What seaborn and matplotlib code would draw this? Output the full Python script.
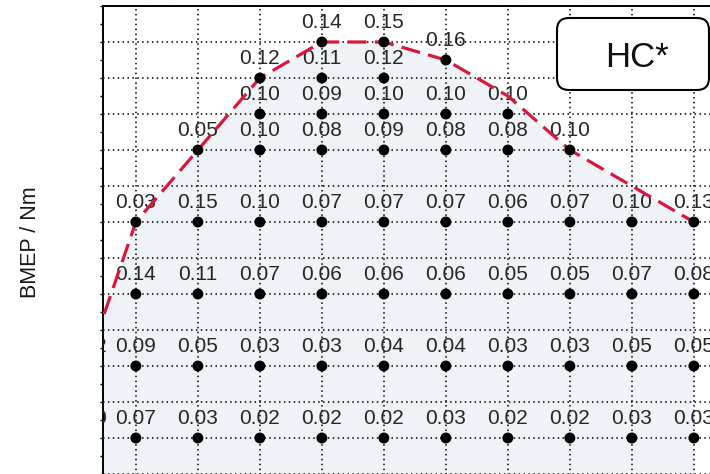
import matplotlib
matplotlib.use("Agg")
import matplotlib.pyplot as plt
import pandas as pd
import seaborn as sns
from matplotlib.patches import FancyBboxPatch
from matplotlib.transforms import IdentityTransform, ScaledTranslation
from matplotlib.ticker import MultipleLocator

# Measurement grid: engine speed columns (rpm), BMEP operating points and HC* values
col_speed = [600, 1000, 1500, 2000, 2500, 3000, 3500, 4000, 4500, 5000, 5500]
col_bmep = [
    [40, 20],
    [80, 60, 40, 20],
    [100, 80, 60, 40, 20],
    [120, 110, 100, 80, 60, 40, 20],
    [130, 120, 110, 100, 80, 60, 40, 20],
    [130, 120, 110, 100, 80, 60, 40, 20],
    [125, 110, 100, 80, 60, 40, 20],
    [110, 100, 80, 60, 40, 20],
    [100, 80, 60, 40, 20],
    [80, 60, 40, 20],
    [80, 60, 40, 20],
]
col_hc = [
    [0.12, 0.10],
    [0.03, 0.14, 0.09, 0.07],
    [0.05, 0.15, 0.11, 0.05, 0.03],
    [0.12, 0.10, 0.10, 0.10, 0.07, 0.03, 0.02],
    [0.14, 0.11, 0.09, 0.08, 0.07, 0.06, 0.03, 0.02],
    [0.15, 0.12, 0.10, 0.09, 0.07, 0.06, 0.04, 0.02],
    [0.16, 0.10, 0.08, 0.07, 0.06, 0.04, 0.03],
    [0.10, 0.08, 0.06, 0.05, 0.03, 0.02],
    [0.10, 0.07, 0.05, 0.03, 0.02],
    [0.10, 0.07, 0.05, 0.03],
    [0.13, 0.08, 0.05, 0.03],
]

# Full-load line
fl_speed = [600, 1000, 1500, 2000, 2500, 3000, 3500, 4000, 4500, 5000, 5500]
fl_bmep = [40, 80, 100, 120, 130, 130, 125, 115, 100, 90, 80]

points = pd.DataFrame(
    [(s, b, h) for s, bs, hs in zip(col_speed, col_bmep, col_hc) for b, h in zip(bs, hs)],
    columns=["speed", "bmep", "hc"],
)
full_load = pd.DataFrame({"speed": fl_speed, "bmep": fl_bmep})

sns.set_theme(style="ticks")
plt.rcParams["font.family"] = ["Liberation Sans", "DejaVu Sans"]

W, H, DPI = 710, 474, 100
fig = plt.figure(figsize=(W / DPI, H / DPI), dpi=DPI)

# axes window: x 735..5800 rpm, y 0..140 Nm (extends past the lower/right edge)
x0, x1, y0, y1 = 735, 5800, 0, 140
px_per_rpm, px_per_nm = 0.124, 3.6
left_px, top_px = 103, 6
w_px = (x1 - x0) * px_per_rpm
h_px = (y1 - y0) * px_per_nm
ax = fig.add_axes([left_px / W, (H - top_px - h_px) / H, w_px / W, h_px / H])
ax.set_xlim(x0, x1)
ax.set_ylim(y0, y1)

# shaded operating area below the full-load line
ax.fill_between(full_load["speed"], full_load["bmep"], 0, color="#eff3f7", lw=0, zorder=1)

ax.set_xticks(range(1000, 5501, 500))
ax.yaxis.set_major_locator(MultipleLocator(10))
ax.yaxis.set_minor_locator(MultipleLocator(5))
ax.grid(True, which="major", color="black", linestyle=(0, (1, 2.2)), linewidth=1.1, zorder=2)
ax.set_axisbelow(False)
ax.tick_params(labelleft=False, labelbottom=False, bottom=False,
               left=True, which="both", direction="out", length=2.5, width=1, color="black")
for sp in ax.spines.values():
    sp.set_color("black")
    sp.set_linewidth(1.4)

sns.lineplot(data=full_load, x="speed", y="bmep", sort=False, estimator=None,
             color="#d9173d", lw=2.3, linestyle=(0, (6, 2.6)), ax=ax, zorder=4)
sns.scatterplot(data=points, x="speed", y="bmep", color="black", s=62,
                edgecolor="none", ax=ax, zorder=5)

offset = ax.transData + ScaledTranslation(0, 10 / 72, fig.dpi_scale_trans)
for s, b, h in points.itertuples(index=False):
    t = ax.text(s, b, f"{h:.2f}", transform=offset, ha="center", va="baseline",
                fontsize=15, color="#262626", zorder=3, clip_on=True)
    t.set_clip_path(ax.patch)

ax.set_xlabel("")
ax.set_ylabel("")

fig.text(31 / W, 1 - 241.7 / H, "BMEP / Nm", rotation=90, ha="center", va="center",
         fontsize=15.5, color="#1a1a1a")

box = FancyBboxPatch((557, H - 90), 152, 72, boxstyle="round,pad=0,rounding_size=12",
                     transform=IdentityTransform(), facecolor="white", edgecolor="black",
                     linewidth=1.5, zorder=10)
fig.add_artist(box)
fig.text(637 / W, (H - 67) / H, "HC*", ha="center", va="baseline", fontsize=25,
         color="#111111", zorder=11)

fig.savefig("out.png", dpi=DPI)
